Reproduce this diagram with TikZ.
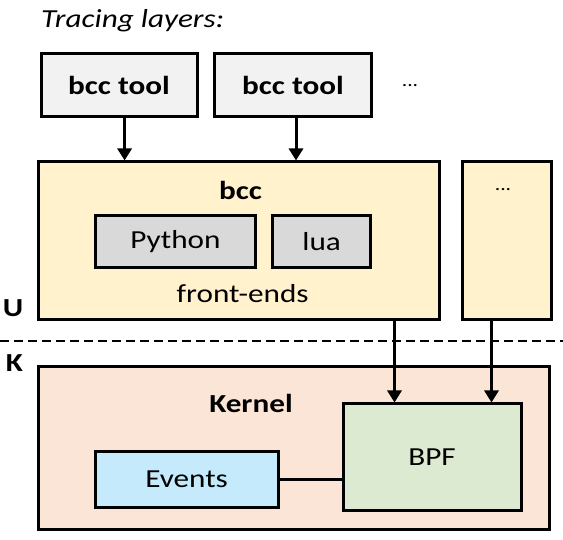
\documentclass[tikz,border=0pt]{standalone}
\usepackage{fontspec}
\setmainfont{Carlito}[FakeStretch=1.2]
\usetikzlibrary{arrows.meta}
\definecolor{toolfill}{HTML}{F2F2F2}
\definecolor{bccfill}{HTML}{FFF2CC}
\definecolor{fefill}{HTML}{D9D9D9}
\definecolor{kernfill}{HTML}{FBE5D6}
\definecolor{bpffill}{HTML}{DCEAD1}
\definecolor{evfill}{HTML}{C4EAFB}
\tikzset{
  box/.style={draw=black, line width=3pt, inner sep=0pt},
  arr/.style={line width=3pt, -{Triangle[length=12pt,width=14pt]}},
  lbl/.style={font=\fontsize{26}{31}\selectfont},
  blbl/.style={font=\fontsize{26}{31}\selectfont\bfseries},
  dots/.style={font=\fontsize{18}{22}\selectfont},
}
\begin{document}
\begin{tikzpicture}[x=1pt,y=-1pt]
\useasboundingbox (0,0) rectangle (563,540);
% title
\node[anchor=base west, font=\fontsize{26}{31}\selectfont\itshape, inner sep=0pt] (title) at (41,28) {Tracing layers:};
% tools
\node[box, fill=toolfill, minimum width=156pt, minimum height=63pt, blbl] (t1) at (119,85) {bcc tool};
\node[box, fill=toolfill, minimum width=157pt, minimum height=63pt, blbl] (t2) at (293,85) {bcc tool};
\node[dots] (tdots) at (410,86) {...};
% bcc
\node[box, fill=bccfill, minimum width=401pt, minimum height=158pt] (bcc) at (239.3,241) {};
\node[blbl] (bcct) at (240.5,190) {bcc};
\node[box, fill=fefill, minimum width=160.5pt, minimum height=52pt, lbl] (py) at (175.4,242) {Python};
\node[box, fill=fefill, minimum width=97.7pt, minimum height=52pt, lbl] (lua) at (321.7,242) {lua};
\node[lbl] (fe) at (242.7,294) {front-ends};
\node[box, fill=bccfill, minimum width=89.5pt, minimum height=158pt] (other) at (507,241) {};
\node[dots] (odots) at (503,190) {...};
% U / K
\node[blbl] (U) at (13,308) {U};
\node[blbl] (K) at (14.5,363) {K};
\coordinate (dl) at (0,341);
\coordinate (dr) at (563,341);
\draw[line width=1.5pt, dash pattern=on 9pt off 5pt] (dl) -- (dr);
% kernel
\node[box, fill=kernfill, minimum width=511pt, minimum height=162pt] (kern) at (294.4,448) {};
\node[blbl] (kt) at (251,403) {Kernel};
\node[box, fill=bpffill, minimum width=178pt, minimum height=106pt, lbl] (bpf) at (432,457) {BPF};
\node[box, fill=evfill, minimum width=183pt, minimum height=56pt, lbl] (ev) at (186.6,479) {Events};
% connectors
\draw[arr] (t1.south -| 124.6,0) -- (bcc.north -| 124.6,0);
\draw[arr] (t2.south -| 296,0) -- (bcc.north -| 296,0);
\draw[arr] (bcc.south -| 394.5,0) -- (bpf.north -| 394.5,0);
\draw[arr] (other.south -| 491.5,0) -- (bpf.north -| 491.5,0);
\draw[line width=3pt] (ev.east) -- (ev.east -| bpf.west);
\end{tikzpicture}
\end{document}
